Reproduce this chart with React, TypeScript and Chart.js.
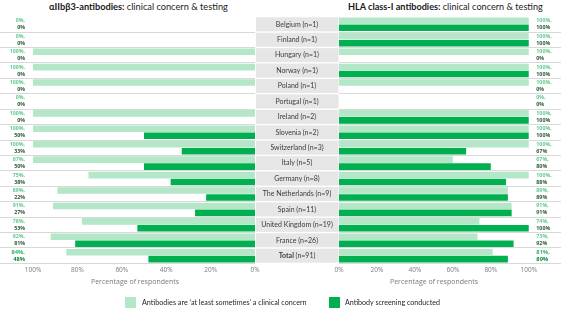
import React, { useEffect, useLayoutEffect, useRef, useState } from 'react';
import { Chart, registerables } from 'chart.js';

Chart.register(...registerables);

const countries = [
  'Belgium (n=1)', 'Finland (n=1)', 'Hungary (n=1)', 'Norway (n=1)', 'Poland (n=1)',
  'Portugal (n=1)', 'Ireland (n=2)', 'Slovenia (n=2)', 'Switzerland (n=3)', 'Italy (n=5)',
  'Germany (n=8)', 'The Netherlands (n=9)', 'Spain (n=11)', 'United Kingdom (n=19)',
  'France (n=26)', 'Total (n=91)',
];

// αIIbβ3-antibodies (left panel)
const leftConcern = [0, 0, 100, 100, 100, 0, 100, 100, 100, 100, 75, 89, 91, 78, 92, 85];
const leftConcernLabels = ['0%', '0%', '100%', '100%', '100%', '0%', '100%', '100%', '100%', '67%', '75%', '89%', '91%', '78%', '92%', '84%'];
const leftScreen = [0, 0, 0, 0, 0, 0, 0, 50, 33, 50, 38, 22, 27, 53, 81, 48];
const leftScreenLabels = ['0%', '0%', '0%', '0%', '0%', '0%', '0%', '50%', '33%', '50%', '38%', '22%', '27%', '53%', '81%', '48%'];

// HLA class-I antibodies (right panel)
const rightConcern = [100, 100, 100, 100, 100, 0, 100, 100, 100, 60, 100, 89, 91, 74, 73, 81];
const rightConcernLabels = ['100%', '100%', '100%', '100%', '100%', '0%', '100%', '100%', '100%', '67%', '100%', '89%', '91%', '74%', '73%', '81%'];
const rightScreen = [100, 100, 0, 100, 0, 0, 100, 100, 67, 80, 88, 89, 91, 100, 92, 89];
const rightScreenLabels = ['100%', '100%', '0%', '100%', '0%', '0%', '100%', '100%', '67%', '80%', '88%', '89%', '91%', '100%', '92%', '89%'];

const tickValues = [0, 20, 40, 60, 80, 100];

const LIGHT = '#b4e6c8';
const DARK = '#00b050';
const FONT = 'Lato, "Open Sans", sans-serif';
const CANVAS_H = 300;
const AREA_BOTTOM = 263.4;

type Side = 'left' | 'right';

function makePlugin(side: Side, concernLabels: string[], screenLabels: string[]) {
  return {
    id: 'panelLabels' + side,
    beforeDatasetsDraw(chart: any) {
      if (side !== 'left') return;
      const ctx = chart.ctx;
      const y = chart.scales.y;
      const half = (y.getPixelForValue(1) - y.getPixelForValue(0)) / 2;
      ctx.save();
      countries.forEach((c, i) => {
        const cy = y.getPixelForValue(i);
        ctx.fillStyle = '#e6e6e6';
        ctx.fillRect(256, cy - half + 0.7, 82.5, half * 2 - 1.4);
        ctx.fillStyle = '#3b3b3b';
        ctx.textBaseline = 'middle';
        if (i === countries.length - 1) {
          const parts = c.split(' ');
          ctx.font = `bold 7px ${FONT}`;
          const w1 = ctx.measureText(parts[0] + ' ').width;
          ctx.font = `7px ${FONT}`;
          const w2 = ctx.measureText(parts[1]).width;
          const x0 = 297 - (w1 + w2) / 2;
          ctx.textAlign = 'left';
          ctx.font = `bold 7px ${FONT}`;
          ctx.fillText(parts[0] + ' ', x0, cy);
          ctx.font = `7px ${FONT}`;
          ctx.fillText(parts[1], x0 + w1, cy);
        } else {
          ctx.font = `7px ${FONT}`;
          ctx.textAlign = 'center';
          ctx.fillText(c, 297, cy);
        }
      });
      ctx.restore();
    },
    afterDatasetsDraw(chart: any) {
      const ctx = chart.ctx;
      const x = chart.scales.x;
      const m0 = chart.getDatasetMeta(0);
      const m1 = chart.getDatasetMeta(1);
      ctx.save();
      ctx.textBaseline = 'middle';
      const px = side === 'left' ? x.getPixelForValue(103.6) : x.getPixelForValue(104);
      ctx.textAlign = side === 'left' ? 'right' : 'left';
      concernLabels.forEach((lab, i) => {
        const total = i === concernLabels.length - 1;
        ctx.font = `bold ${total ? 5.8 : 5.3}px "Open Sans", sans-serif`;
        ctx.fillStyle = total ? '#2fb866' : '#62cc8c';
        ctx.fillText(lab + ',', px, m0.data[i].y);
        ctx.fillStyle = total ? '#128a45' : '#2c5a3e';
        ctx.fillText(screenLabels[i], px, m1.data[i].y);
      });
      ctx.restore();
    },
  };
}

function Panel({ side, concern, screen, concernLabels, screenLabels, left, width, height }: any) {
  const ref = useRef<HTMLCanvasElement>(null);
  useEffect(() => {
    const isLeft = side === 'left';
    const chart = new Chart(ref.current as HTMLCanvasElement, {
      type: 'bar',
      data: {
        labels: countries,
        datasets: [
          { data: concern, backgroundColor: LIGHT, barPercentage: 0.95, categoryPercentage: 0.9 },
          { data: screen, backgroundColor: DARK, barPercentage: 0.95, categoryPercentage: 0.9 },
        ],
      },
      options: {
        indexAxis: 'y',
        responsive: false,
        animation: false,
        devicePixelRatio: 1,
        layout: {
          padding: isLeft
            ? { top: 16.6, right: 84, left: 0, bottom: 0 }
            : { top: 16.6, right: 0, left: 9, bottom: 0 },
        },
        plugins: { legend: { display: false }, tooltip: { enabled: false } },
        scales: {
          x: {
            type: 'linear',
            reverse: isLeft,
            min: 0,
            max: isLeft ? 114.86 : 117.0,
            grid: { display: false, drawTicks: false, tickLength: 0 },
            border: { display: false },
            afterBuildTicks: (s: any) => { s.ticks = tickValues.map((v) => ({ value: v })); },
            afterFit: (s: any) => { s.height = CANVAS_H - AREA_BOTTOM; },
            ticks: {
              font: { size: 6.5, family: '"Open Sans", sans-serif' },
              color: '#7a7a7a',
              padding: 3,
              maxRotation: 0,
              autoSkip: false,
              callback: (v: any) => v + '%',
            },
          },
          y: {
            type: 'category',
            position: isLeft ? 'right' : 'left',
            ticks: { display: false },
            border: { display: false },
            afterFit: (s: any) => { s.width = 0; },
            grid: {
              offset: true,
              drawTicks: false,
              lineWidth: 1,
              color: (c: any) => (c.index === 0 || c.index === countries.length ? 'rgba(0,0,0,0)' : '#d9d9d9'),
            },
          },
        },
      },
      plugins: [makePlugin(side, concernLabels, screenLabels)],
    } as any);
    return () => chart.destroy();
  }, []);
  return (
    <canvas
      ref={ref}
      width={width}
      height={height}
      style={{ position: 'absolute', left, top: 0, width, height }}
    />
  );
}

// Text block whose font size is adjusted so that its rendered width matches a target width
function FitText({ left, top, target, base, style, children }: any) {
  const ref = useRef<HTMLDivElement>(null);
  const [size, setSize] = useState(base);
  useLayoutEffect(() => {
    const el = ref.current;
    if (!el) return;
    el.style.fontSize = base + 'px';
    const w = el.getBoundingClientRect().width;
    if (w > 0) setSize((base * target) / w);
  }, []);
  return (
    <div
      ref={ref}
      style={{ position: 'absolute', left, top, whiteSpace: 'nowrap', fontFamily: FONT, ...style, fontSize: size }}
    >
      {children}
    </div>
  );
}

export default function App() {
  const axisTitle: any = {
    position: 'absolute', top: 277, fontSize: 7, color: '#7a7a7a', whiteSpace: 'nowrap',
    fontFamily: '"Open Sans", sans-serif', transform: 'translateX(-50%)', lineHeight: '10px',
  };
  const titleStyle = { color: '#1a1a1a', lineHeight: '14px' };
  const legStyle = { color: '#262626', lineHeight: '12px' };
  return (
    <div style={{ position: 'absolute', left: 0, top: 0, width: 561, height: 310, background: '#fff', overflow: 'hidden' }}>
      <FitText left={49} top={0} target={179} base={10} style={titleStyle}>
        <b>αIIbβ3-antibodies:</b> clinical concern &amp; testing
      </FitText>
      <FitText left={348} top={0} target={195} base={10} style={titleStyle}>
        <b>HLA class-I antibodies:</b> clinical concern &amp; testing
      </FitText>
      <Panel side="left" concern={leftConcern} screen={leftScreen} concernLabels={leftConcernLabels}
        screenLabels={leftScreenLabels} left={0} width={339} height={CANVAS_H} />
      <Panel side="right" concern={rightConcern} screen={rightScreen} concernLabels={rightConcernLabels}
        screenLabels={rightScreenLabels} left={330} width={231} height={CANVAS_H} />
      <div style={{ ...axisTitle, left: 135 }}>Percentage of respondents</div>
      <div style={{ ...axisTitle, left: 434 }}>Percentage of respondents</div>
      <div style={{ position: 'absolute', left: 125, top: 297, width: 11, height: 11, background: LIGHT }} />
      <FitText left={142} top={296.5} target={165} base={7} style={legStyle}>
        Antibodies are ‘at least sometimes’ a clinical concern
      </FitText>
      <div style={{ position: 'absolute', left: 329, top: 297, width: 11, height: 11, background: DARK }} />
      <FitText left={345} top={296.5} target={95} base={7} style={legStyle}>
        Antibody screening conducted
      </FitText>
    </div>
  );
}
